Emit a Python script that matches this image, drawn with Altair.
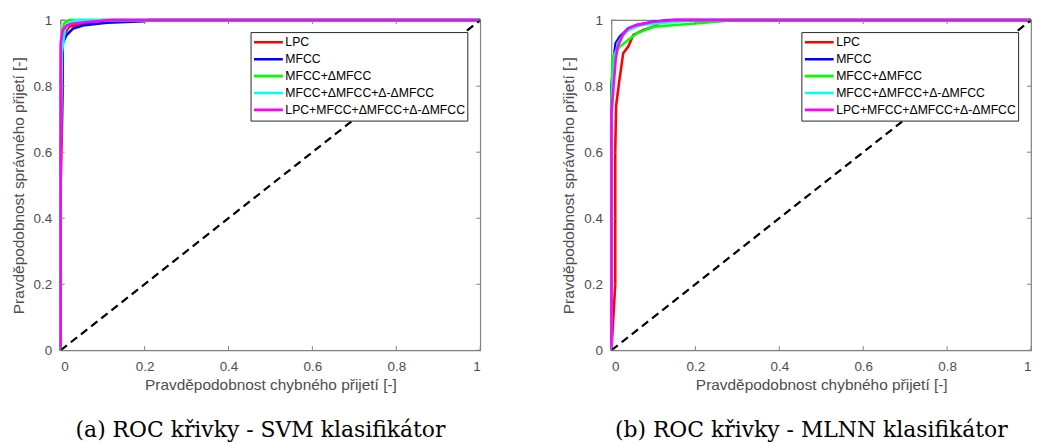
import altair as alt
import pandas as pd

SERIES = ["LPC", "MFCC", "MFCC+ΔMFCC", "MFCC+ΔMFCC+Δ-ΔMFCC", "LPC+MFCC+ΔMFCC+Δ-ΔMFCC"]
COLORS = ["#ff0000", "#0000ff", "#00ff00", "#00ffff", "#ff00ff"]

# SVM classifier ROC curves (false acceptance, true acceptance)
svm_lpc_x = [0, 0.0, 0.005, 0.005, 0.02, 0.05, 0.1, 1]
svm_lpc_y = [0, 0.5, 0.78, 0.95, 0.98, 0.99, 1, 1]
svm_mfcc_x = [0, 0.0, 0.005, 0.014, 0.03, 0.057, 0.11, 0.2, 0.21, 1]
svm_mfcc_y = [0, 0.6, 0.93, 0.955, 0.975, 0.985, 0.992, 0.997, 1, 1]
svm_d_x = [0, 0.0, 0.002, 0.008, 0.02, 1]
svm_d_y = [0, 0.85, 0.95, 0.99, 1, 1]
svm_dd_x = [0, 0.0, 0.003, 0.01, 0.02, 0.035, 1]
svm_dd_y = [0, 0.57, 0.9, 0.97, 0.99, 1, 1]
svm_all_x = [0, 0.0, 0.005, 0.015, 0.03, 0.07, 0.12, 1]
svm_all_y = [0, 0.93, 0.97, 0.985, 0.99, 0.995, 1, 1]

# MLNN classifier ROC curves
mlnn_lpc_x = [0, 0.009, 0.009, 0.011, 0.018, 0.028, 0.04, 0.052, 0.076, 0.1, 0.116, 0.15, 1]
mlnn_lpc_y = [0, 0.2, 0.6, 0.74, 0.81, 0.9, 0.92, 0.955, 0.97, 0.98, 0.994, 1, 1]
mlnn_mfcc_x = [0, 0.0, 0.005, 0.01, 0.02, 0.028, 0.04, 0.06, 0.1, 0.14, 1]
mlnn_mfcc_y = [0, 0.8, 0.88, 0.93, 0.95, 0.96, 0.975, 0.985, 0.995, 1, 1]
mlnn_d_x = [0, 0.0, 0.003, 0.008, 0.02, 0.04, 0.06, 0.1, 0.2, 0.29, 1]
mlnn_d_y = [0, 0.77, 0.88, 0.9, 0.92, 0.94, 0.96, 0.98, 0.99, 1, 1]
mlnn_dd_x = [0, 0.0, 0.003, 0.008, 0.015, 0.025, 0.04, 0.07, 0.15, 0.22, 1]
mlnn_dd_y = [0, 0.67, 0.8, 0.88, 0.93, 0.95, 0.97, 0.985, 0.995, 1, 1]
mlnn_all_x = [0, 0.0, 0.005, 0.01, 0.015, 0.028, 0.04, 0.06, 0.1, 0.147, 1]
mlnn_all_y = [0, 0.72, 0.8, 0.88, 0.92, 0.958, 0.975, 0.985, 0.995, 1, 1]

diag_x = [0, 1]
diag_y = [0, 1]
TICKS = [0, 0.2, 0.4, 0.6, 0.8, 1]

X_TITLE = "Pravděpodobnost chybného přijetí [-]"
Y_TITLE = "Pravděpodobnost správného přijetí [-]"
CAPTIONS = ["(a) ROC křivky - SVM klasifikátor", "(b) ROC křivky - MLNN klasifikátor"]

W, H = 422, 332
GRID = "#808080"


def curves_df(xs, ys):
    rows = []
    for k, (sx, sy) in enumerate(zip(xs, ys)):
        for i, (a, b) in enumerate(zip(sx, sy)):
            rows.append({"series": SERIES[k], "order": i, "fpr": a, "tpr": b, "k": k})
    return pd.DataFrame(rows)


def panel(df, caption):
    xsc = alt.Scale(domain=[0, 1], nice=False)
    ysc = alt.Scale(domain=[0, 1], nice=False)
    xax = alt.Axis(values=TICKS, format="~g", title=X_TITLE, ticks=False, domain=False,
                   grid=False, labelPadding=9, titlePadding=5)
    yax = alt.Axis(values=TICKS, format="~g", title=Y_TITLE, ticks=False, domain=False,
                   grid=False, labelPadding=9, titlePadding=7)

    layers = []
    for k, name in enumerate(SERIES):
        sub = df[df["series"] == name]
        layers.append(
            alt.Chart(sub).mark_line(strokeWidth=2.6, interpolate="linear").encode(
                x=alt.X("fpr:Q", scale=xsc, axis=xax),
                y=alt.Y("tpr:Q", scale=ysc, axis=yax),
                color=alt.Color("series:N", scale=alt.Scale(domain=SERIES, range=COLORS),
                                legend=alt.Legend(title=None, orient="none", legendX=191, legendY=12,
                                                  symbolType="stroke", symbolSize=841,
                                                  symbolStrokeWidth=2.6,
                                                  clipHeight=16.5, rowPadding=0, labelFontSize=12.3,
                                                  labelFont="Liberation Sans", labelColor="#000000",
                                                  labelOffset=1, fillColor="white",
                                                  strokeColor="#262626",
                                                  padding=2, labelLimit=300)),
                order="order:Q",
            )
        )

    ddf = pd.DataFrame({"fpr": diag_x, "tpr": diag_y})
    diag = alt.Chart(ddf).mark_line(color="black", strokeWidth=2.2, strokeDash=[8, 5]).encode(
        x=alt.X("fpr:Q", scale=xsc), y=alt.Y("tpr:Q", scale=ysc)
    )

    tdf = pd.DataFrame({"t": TICKS})
    tick_b = alt.Chart(tdf).mark_rule(color=GRID, strokeWidth=1).encode(
        x=alt.X("t:Q", scale=xsc), y=alt.value(H), y2=alt.value(H - 4))
    tick_t = alt.Chart(tdf).mark_rule(color=GRID, strokeWidth=1).encode(
        x=alt.X("t:Q", scale=xsc), y=alt.value(0), y2=alt.value(4))
    tick_l = alt.Chart(tdf).mark_rule(color=GRID, strokeWidth=1).encode(
        y=alt.Y("t:Q", scale=ysc), x=alt.value(0), x2=alt.value(4))
    tick_r = alt.Chart(tdf).mark_rule(color=GRID, strokeWidth=1).encode(
        y=alt.Y("t:Q", scale=ysc), x=alt.value(W), x2=alt.value(W - 4))

    return alt.layer(*layers, diag, tick_b, tick_t, tick_l, tick_r).properties(
        width=W, height=H,
        title=alt.TitleParams(text=caption, orient="bottom", font="DejaVu Serif", fontSize=22,
                              fontWeight="normal", color="black", offset=27, anchor="middle",
                              dx=-10),
    )


left = panel(curves_df([svm_lpc_x, svm_mfcc_x, svm_d_x, svm_dd_x, svm_all_x],
                       [svm_lpc_y, svm_mfcc_y, svm_d_y, svm_dd_y, svm_all_y]), CAPTIONS[0])
right = panel(curves_df([mlnn_lpc_x, mlnn_mfcc_x, mlnn_d_x, mlnn_dd_x, mlnn_all_x],
                        [mlnn_lpc_y, mlnn_mfcc_y, mlnn_d_y, mlnn_dd_y, mlnn_all_y]), CAPTIONS[1])

chart = alt.hconcat(left, right, spacing=132, bounds="flush").resolve_scale(
    color="independent").resolve_legend(color="independent").properties(
    padding={"left": 10, "top": 11, "right": 0, "bottom": 0},
    background="white",
).configure_view(stroke=GRID, strokeWidth=1.2).configure_axis(
    labelFont="Liberation Sans", labelFontSize=13.5, labelColor="#4d4d4d",
    titleFont="Liberation Sans", titleFontSize=15.5, titleColor="#4d4d4d", titleFontWeight="normal",
)

chart.save("out.html", embed_options={"renderer": "svg", "actions": False})
